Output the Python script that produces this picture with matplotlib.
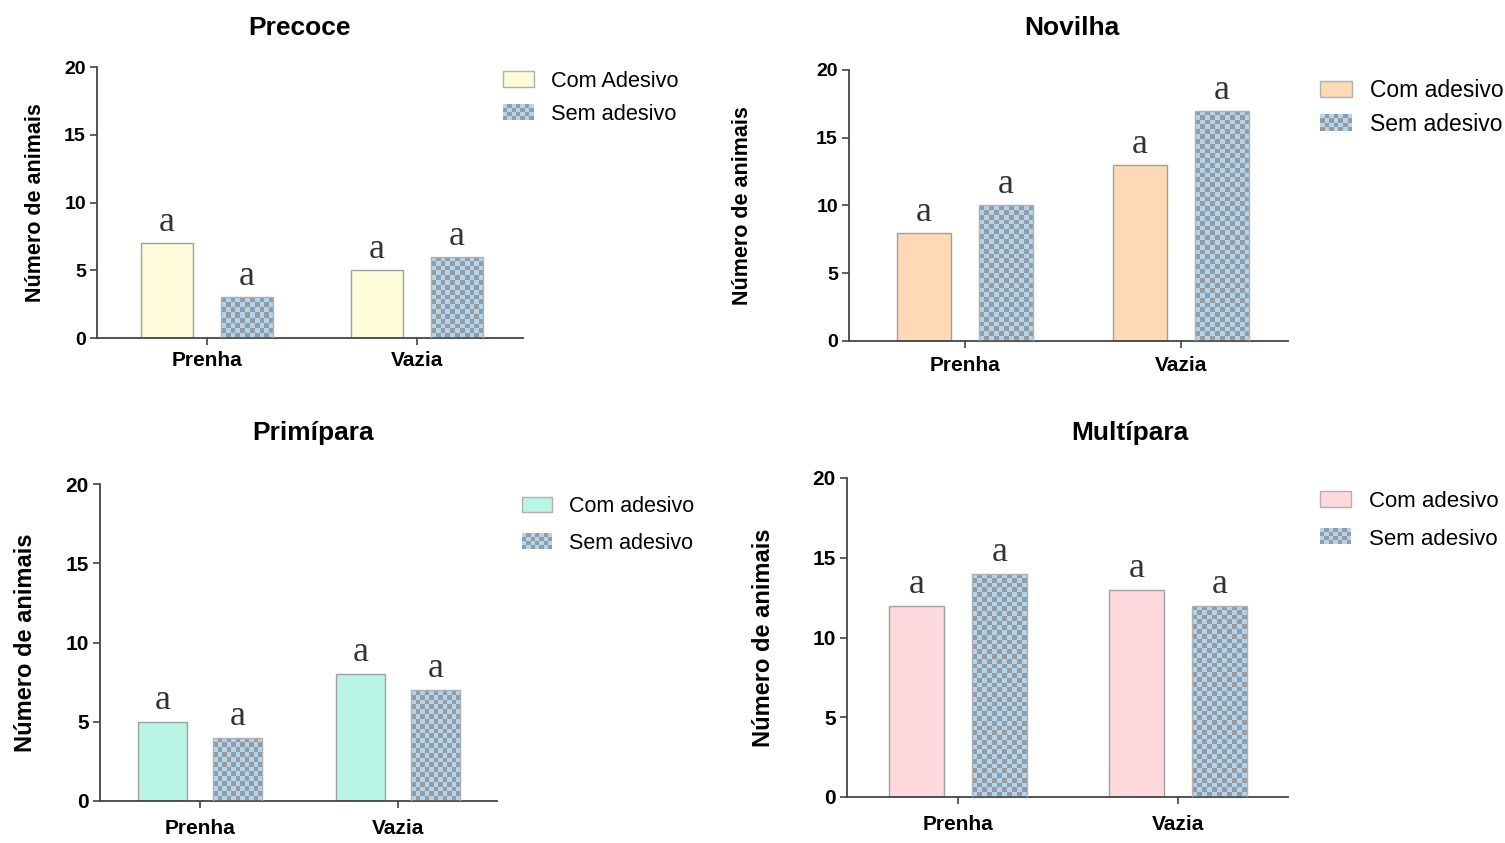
import numpy as np
import matplotlib
matplotlib.use("Agg")
import matplotlib.pyplot as plt
from matplotlib.patches import Rectangle, Patch
from matplotlib.colors import ListedColormap

# data
groups = ["Precoce", "Novilha", "Primípara", "Multípara"]
categories = ["Prenha", "Vazia"]
com_adesivo = [[7, 5], [8, 13], [5, 8], [12, 13]]
sem_adesivo = [[3, 6], [10, 17], [4, 7], [14, 12]]
com_labels = ["Com Adesivo", "Com adesivo", "Com adesivo", "Com adesivo"]
sem_label = "Sem adesivo"
letters_com = [["a", "a"], ["a", "a"], ["a", "a"], ["a", "a"]]
letters_sem = [["a", "a"], ["a", "a"], ["a", "a"], ["a", "a"]]

# styles / layout (pixels in a 1505x843 canvas)
com_colors = ["#fdfbd8", "#fdd9b5", "#b8f5e4", "#fdd9dd"]
blue = "#abd6f5"
check = "#9a9a9a"
W, H = 1505, 843
# axes box: x_left, x_right, y_top(=20), y_bottom(=0), xlim
boxes = [
    (97, 523, 67, 338, (-0.524, 1.505)),
    (849, 1288, 70, 341, (-0.537, 1.495)),
    (100, 497, 484, 801, (-0.505, 1.50)),
    (847, 1288, 478, 797, (-0.505, 1.50)),
]
titles_xy = [(300, 28), (1072, 28), (313, 433), (1130, 433)]
legend_xy = [(503, 71), (1320, 79), (522, 496), (1320, 491)]
legend_fs = [15.7, 16.5, 15.5, 16]
legend_sp = [0.55, 0.5, 0.75, 0.75]
ylabel_x = [46, 753, 37, 775]
ylabel_fs = [15.5, 15.5, 17, 17]
xtick_pad = [4, 6, 8, 8]
ytick_fs = [14, 14, 15, 15]

plt.rcParams['font.family'] = ['Liberation Sans', 'DejaVu Sans']


class CheckerHandler:
    def legend_artist(self, legend, orig_handle, fontsize, handlebox):
        x0, y0 = handlebox.xdescent, handlebox.ydescent
        w, h = handlebox.width, handlebox.height
        tr = handlebox.get_transform()
        bg = Rectangle((x0, y0), w, h, facecolor=blue, edgecolor="none", transform=tr)
        handlebox.add_artist(bg)
        nc, nr = 7, 4
        for i in range(nc):
            for j in range(nr):
                if (i + j) % 2 == 0:
                    handlebox.add_artist(Rectangle((x0 + i * w / nc, y0 + j * h / nr), w / nc, h / nr,
                                                   facecolor=check, edgecolor="none", transform=tr))
        return bg


fig = plt.figure(figsize=(W / 100, H / 100), dpi=100)
fig.patch.set_facecolor("white")

width = 0.25
off = 0.19
x = np.arange(len(categories))

for k, g in enumerate(groups):
    xl, xr, yt, yb, xlim = boxes[k]
    ax = fig.add_axes([xl / W, 1 - yb / H, (xr - xl) / W, (yb - yt) / H])
    ax.set_xlim(*xlim)
    ax.set_ylim(0, 20)
    px_per_unit = (yb - yt) / 20.0

    ax.bar(x - off, com_adesivo[k], width, color=com_colors[k], edgecolor="#a0a0a0",
           linewidth=1.0, zorder=2)
    sem = ax.bar(x + off, sem_adesivo[k], width, color=blue, edgecolor="none", zorder=2)
    for rect, v in zip(sem, sem_adesivo[k]):
        rows = max(1, int(round(v * px_per_unit / 4.8)))
        cols = 11
        board = np.indices((rows, cols)).sum(axis=0) % 2
        bx, bw = rect.get_x(), rect.get_width()
        im = ax.imshow(board, cmap=ListedColormap([blue, check]), extent=(bx, bx + bw, 0, v),
                       aspect="auto", interpolation="nearest", zorder=2.5, origin="lower")
        im.set_clip_path(rect)
    ax.bar(x + off, sem_adesivo[k], width, color="none", edgecolor="#b0b0b0", linewidth=1.0, zorder=3)
    ax.set_xlim(*xlim)
    ax.set_ylim(0, 20)

    for i in range(len(categories)):
        ax.text(x[i] - off, com_adesivo[k][i] + 0.3, letters_com[k][i], ha="center", va="bottom",
                fontsize=26, family="Liberation Serif", color="#333333")
        ax.text(x[i] + off, sem_adesivo[k][i] + 0.3, letters_sem[k][i], ha="center", va="bottom",
                fontsize=26, family="Liberation Serif", color="#333333")

    for s in ["top", "right"]:
        ax.spines[s].set_visible(False)
    for s in ["left", "bottom"]:
        ax.spines[s].set_color("#444444")
        ax.spines[s].set_linewidth(1.3)
    ax.set_yticks([0, 5, 10, 15, 20])
    ax.set_xticks(x)
    ax.set_xticklabels(categories, fontweight="bold", fontsize=15)
    ax.tick_params(axis="y", length=5, width=1.2, color="#444444", labelsize=ytick_fs[k], pad=3)
    ax.tick_params(axis="x", length=5, width=1.2, color="#444444", pad=xtick_pad[k])
    for lab in ax.get_yticklabels():
        lab.set_fontweight("bold")
    ax.set_ylabel("Número de animais", fontweight="bold", fontsize=ylabel_fs[k])
    ax.yaxis.set_label_coords((ylabel_x[k] - xl) / (xr - xl), 0.5)
    ax.set_facecolor("none")

    fig.text(titles_xy[k][0] / W, 1 - titles_xy[k][1] / H, g, ha="center", va="center",
             fontsize=19, fontweight="bold")

    handles = [Patch(facecolor=com_colors[k], edgecolor="#b0b0b0"), Patch(facecolor=blue)]
    lx, ly = legend_xy[k]
    fig.legend(handles, [com_labels[k], sem_label], loc="upper left",
               bbox_to_anchor=(lx / W, 1 - ly / H), frameon=False, fontsize=legend_fs[k],
               handlelength=1.4, handleheight=0.75, handletextpad=0.8, labelspacing=legend_sp[k],
               borderaxespad=0, borderpad=0,
               handler_map={handles[1]: CheckerHandler()})

fig.savefig("out.png", dpi=100)
